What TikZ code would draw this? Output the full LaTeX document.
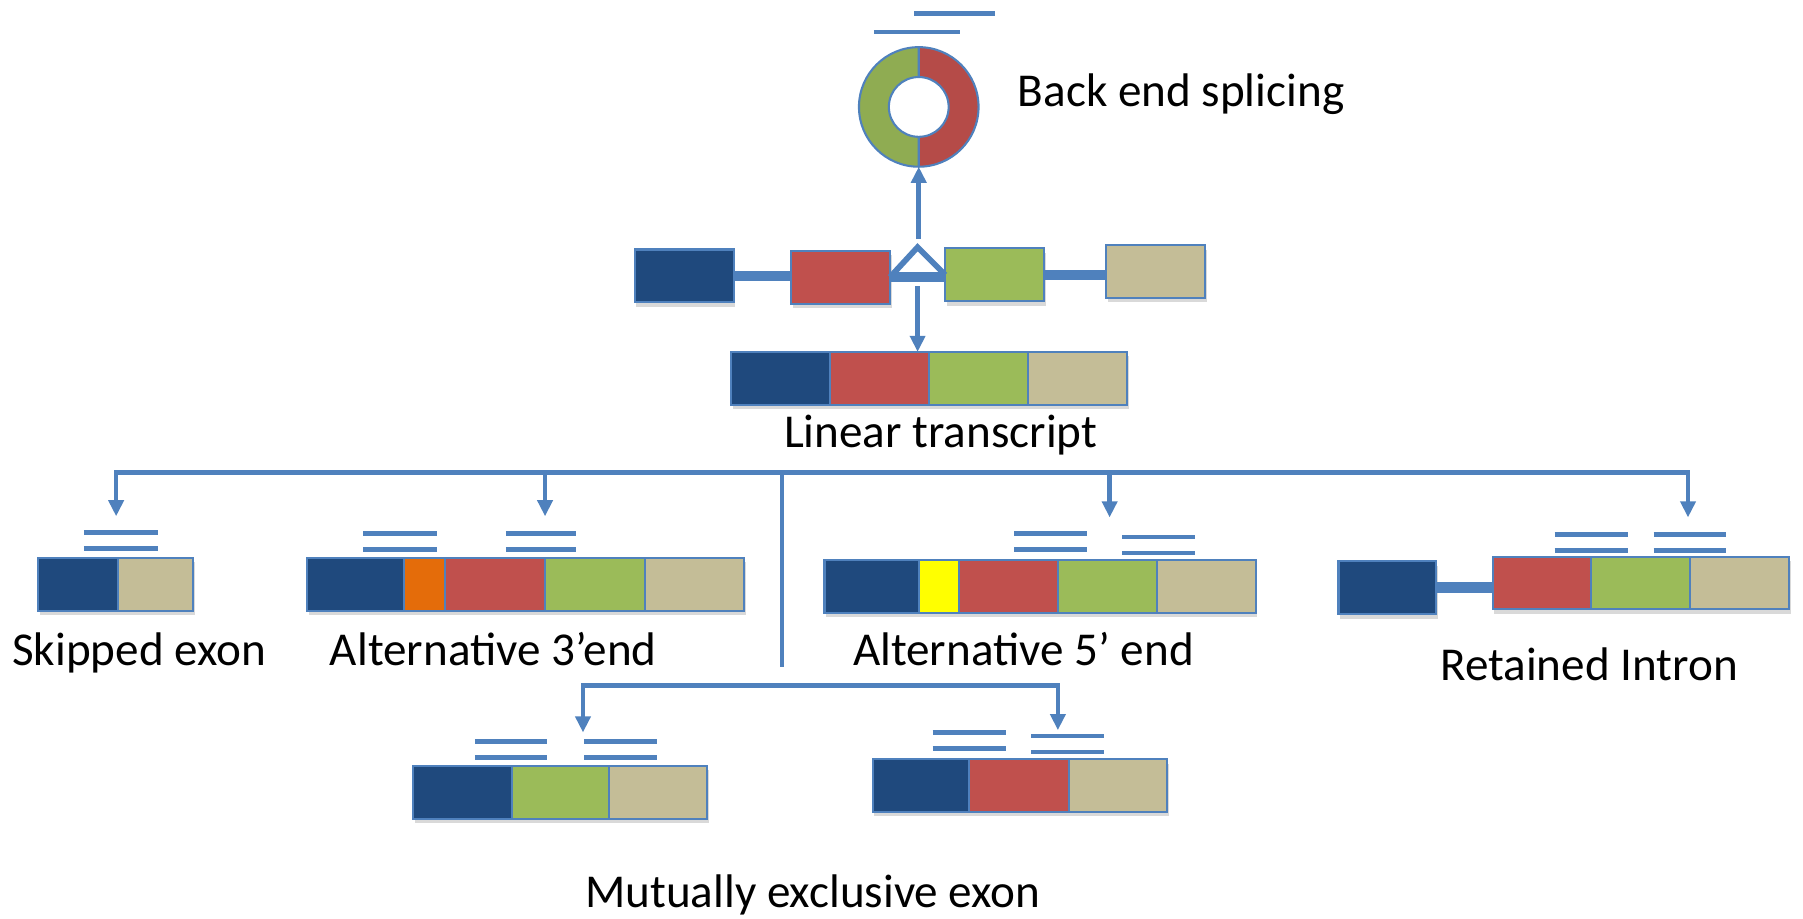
\documentclass[tikz,border=0pt]{standalone}
\usepackage{fontspec}
\setmainfont{Carlito}
\usetikzlibrary{arrows.meta,shadows}
\definecolor{exblue}{HTML}{1F497D}
\definecolor{exred}{HTML}{C0504D}
\definecolor{exgreen}{HTML}{9BBB59}
\definecolor{extan}{HTML}{C4BD97}
\definecolor{exorange}{HTML}{E46C0A}
\definecolor{exyellow}{HTML}{FFFF00}
\definecolor{lblue}{HTML}{4F81BD}

\begin{document}
\begin{tikzpicture}[x=1pt, y=-1pt,
  exon/.style={draw=lblue, line width=1.8pt, inner sep=0pt, outer sep=0pt,
               anchor=north west, minimum height=46pt,
               drop shadow={shadow xshift=1.5pt, shadow yshift=-4pt, opacity=0.3}},
  read/.style={draw=lblue, line width=4pt},
  intron/.style={draw=lblue, line width=9pt},
  junc/.style={draw=lblue, line width=5pt, line join=miter},
  wire/.style={draw=lblue, line width=4pt, line join=miter},
  arr/.style={wire, -{Triangle[length=14pt, width=13pt]}},
  arrs/.style={wire, {Triangle[length=14pt, width=13pt]}-{Triangle[length=14pt, width=13pt]}},
  lbl/.style={font=\fontsize{41}{49}\selectfont, inner sep=0pt, anchor=base},
]
\useasboundingbox (0,0) rectangle (1568,799);

% ---- circular product of back splicing ----
\node[circle, minimum size=104pt, inner sep=0pt, outer sep=0pt] (ring) at (799,93) {};
\fill[exgreen!92!black] (ring.north) arc[start angle=90, end angle=270, radius=52pt]
  -- ++(0,26pt) arc[start angle=270, end angle=90, radius=26pt] -- cycle;
\fill[exred!94!black] (ring.north) arc[start angle=90, end angle=-90, radius=52pt]
  -- ++(0,26pt) arc[start angle=-90, end angle=90, radius=26pt] -- cycle;
\draw[lblue, line width=1.8pt] (ring.center) circle[radius=52pt]
  (ring.center) circle[radius=26pt]
  (ring.north) -- ++(0,-26pt) (ring.south) -- ++(0,26pt);
\draw[read] (760,28) -- (835,28);
\draw[read] (795,12) -- (865,12);
\node[lbl, anchor=base west] (tback) at (885,93) {Back end splicing};

% ---- pre-mRNA: exons and introns ----
\foreach \n/\x/\y/\c in {1/552/217/exblue, 2/688/218/exred, 3/822/216/exgreen, 4/962/213/extan}
  \node[exon, fill=\c, minimum width=86] (g\n) at (\x,\y) {};
\draw[intron] (g1.east) -- (g1.east -| g2.west);
\draw[intron] (g3.east) -- (g3.east -| g4.west);
\draw[intron] (g2.east) -- (g2.east -| g3.west);
\coordinate (apex) at (798,215);
\draw[junc] (g2.east) -- (apex) -- (g3.west);
\coordinate (upfoot) at (799,208);
\draw[arr] (upfoot) -- (ring.south);

% ---- linear transcript ----
\foreach \n/\x/\c in {1/636/exblue, 2/722/exred, 3/808/exgreen, 4/894/extan}
  \node[exon, fill=\c, minimum width=86] (lin\n) at (\x,306) {};
\coordinate (downfoot) at (798,249);
\draw[arr] (downfoot) -- (downfoot |- lin2.north);
\node[lbl] (tlin) at (818,389) {Linear transcript};

% ---- branches to the splicing events ----
\coordinate (bl) at (101,411);
\coordinate (br) at (1468,411);
\coordinate (tse) at (101,449);
\coordinate (ta3) at (474,449);
\coordinate (ta5) at (965,450);
\coordinate (tri) at (1468,450);
\draw[arrs] (tse) -- (bl) -- (br) -- (tri);
\draw[arr] (ta3 |- bl) -- (ta3);
\draw[arr] (ta5 |- bl) -- (ta5);
\coordinate (trunk) at (680,411);
\coordinate (trunkend) at (680,580);
\draw[wire] (trunk) -- (trunkend);
\coordinate (ml) at (507,596);
\coordinate (mr) at (920,596);
\coordinate (tme1) at (507,637);
\coordinate (tme2) at (920,635);
\draw[arrs] (tme1) -- (ml) -- (mr) -- (tme2);

% ---- skipped exon ----
\foreach \n/\x/\w/\c in {1/33/70/exblue, 2/103/65/extan}
  \node[exon, fill=\c, minimum width=\w] (se\n) at (\x,485) {};
\node[lbl] (tse) at (121,579) {Skipped exon};

% ---- alternative 3' end ----
\foreach \n/\x/\w/\c in {1/267/84/exblue, 2/351/36/exorange, 3/387/87/exred, 4/474/87/exgreen, 5/561/86/extan}
  \node[exon, fill=\c, minimum width=\w] (tre\n) at (\x,485) {};
\node[lbl] (ttre) at (429,579) {Alternative 3’end};

% ---- alternative 5' end ----
\foreach \n/\x/\w/\c in {1/717/82/exblue, 2/799/35/exyellow, 3/834/86/exred, 4/920/86/exgreen, 5/1006/86/extan}
  \node[exon, fill=\c, minimum width=\w] (fve\n) at (\x,487) {};
\node[lbl] (tfve) at (890,579) {Alternative 5’ end};

% ---- retained intron ----
\node[exon, fill=exblue, minimum width=85] (ri1) at (1164,488) {};
\foreach \n/\x/\c in {2/1298/exred, 3/1384/exgreen, 4/1470/extan}
  \node[exon, fill=\c, minimum width=86] (ri\n) at (\x,484) {};
\draw[intron] (ri1.east) -- (ri1.east -| ri2.west);
\node[lbl] (tri) at (1382,592) {Retained Intron};

% ---- mutually exclusive exons ----
\foreach \n/\x/\w/\c in {1/359/86/exblue, 2/445/85/exgreen, 3/530/85/extan}
  \node[exon, fill=\c, minimum width=\w] (mea\n) at (\x,666) {};
\foreach \n/\x/\w/\c in {1/759/84/exblue, 2/843/87/exred, 3/930/85/extan}
  \node[exon, fill=\c, minimum width=\w] (meb\n) at (\x,660) {};
\node[lbl] (tme) at (707,789) {Mutually exclusive exon};

% ---- junction reads ----
\foreach \xa/\xb/\y in {73/137/463, 316/380/464, 440/501/464, 882/945/464, 976/1039/467,
    1352/1416/465, 1438/1501/465, 413/476/645, 508/571/645, 811/875/637, 897/960/640} {
  \draw[read] (\xa,\y) -- (\xb,\y);
  \draw[read] (\xa,\y+14) -- (\xb,\y+14);
}

\end{tikzpicture}
\end{document}
